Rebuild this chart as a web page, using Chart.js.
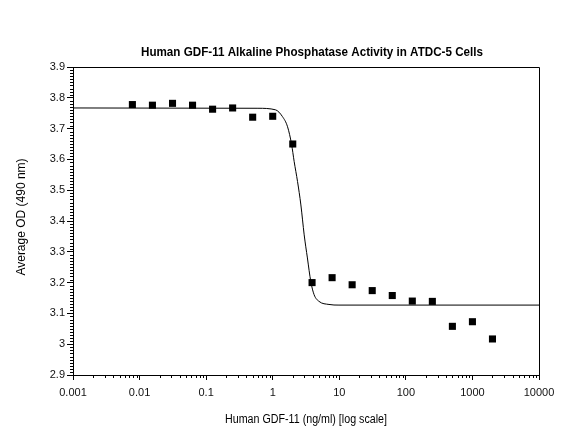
<!DOCTYPE html>
<html>
<head>
<meta charset="utf-8">
<script src="https://cdn.jsdelivr.net/npm/chart.js@4.4.1/dist/chart.umd.min.js"></script>
<style>
  html, body { margin: 0; padding: 0; background: #fff; }
  #wrap { width: 569px; height: 436px; position: relative; }
</style>
</head>
<body>
<div id="wrap"><canvas id="gdfChart"></canvas></div>
<script>
// doses (ng/ml) and mean OD at 490 nm
const doses = [0.0078, 0.0156, 0.03125, 0.0625, 0.125, 0.25, 0.5, 1, 2, 3.9, 7.8, 15.6, 31.25, 62.5, 125, 250, 500, 1000, 2000];
const odValues = [3.778, 3.776, 3.782, 3.776, 3.763, 3.767, 3.737, 3.740, 3.650, 3.200, 3.216, 3.193, 3.174, 3.158, 3.140, 3.139, 3.058, 3.073, 3.017];

// fitted curve
const curveX = [0.001, 0.6, 1.1, 1.4, 1.67, 1.92, 2.1, 2.36, 2.65, 2.97, 3.32, 3.73, 4.18, 4.96, 7.0, 9.9, 10000];
const curveY = [3.767, 3.766, 3.761, 3.739, 3.706, 3.649, 3.593, 3.528, 3.452, 3.355, 3.280, 3.204, 3.161, 3.139, 3.129, 3.127, 3.127];

const xTickValues = [0.001, 0.01, 0.1, 1, 10, 100, 1000, 10000];
const xTickLabels = ["0.001", "0.01", "0.1", "1", "10", "100", "1000", "10000"];
const yTickValues = [2.9, 3, 3.1, 3.2, 3.3, 3.4, 3.5, 3.6, 3.7, 3.8, 3.9];
const yTickLabels = ["2.9", "3", "3.1", "3.2", "3.3", "3.4", "3.5", "3.6", "3.7", "3.8", "3.9"];

const chartTitle = "Human GDF-11 Alkaline Phosphatase Activity in ATDC-5 Cells";
const xTitle = "Human GDF-11 (ng/ml) [log scale]";
const yTitle = "Average OD (490 nm)";

const sans = "'Liberation Sans', Arial, sans-serif";

// squeeze text into a given width (the original uses a narrow face)
function drawSqueezed(ctx, text, x, y, width) {
    const w = ctx.measureText(text).width;
    const k = Math.min(1, width / w);
    ctx.save();
    ctx.translate(x, y);
    ctx.scale(k, 1);
    ctx.fillText(text, 0, 0);
    ctx.restore();
}

// frame, minor ticks and titles
const framePlugin = {
    id: "frame",
    afterDraw(chart) {
        const ctx = chart.ctx;
        const a = chart.chartArea;
        const xs = chart.scales.x;
        const ys = chart.scales.y;
        ctx.save();
        ctx.strokeStyle = "#000";
        ctx.lineWidth = 1;
        ctx.beginPath();
        ctx.rect(Math.round(a.left) + 0.5, Math.round(a.top) + 0.5, Math.round(a.right - a.left), Math.round(a.bottom - a.top));
        ctx.stroke();

        // minor ticks on x
        ctx.beginPath();
        for (let e = -3; e < 4; e++) {
            for (let k = 2; k < 10; k++) {
                const px = Math.round(xs.getPixelForValue(k * Math.pow(10, e))) + 0.5;
                ctx.moveTo(px, Math.round(a.bottom));
                ctx.lineTo(px, Math.round(a.bottom) + 3);
            }
        }
        // minor ticks on y
        for (let i = 0; i <= 100; i++) {
            if (i % 10 === 0) continue;
            const py = Math.round(ys.getPixelForValue(2.9 + i * 0.01)) + 0.5;
            ctx.moveTo(Math.round(a.left) - 3, py);
            ctx.lineTo(Math.round(a.left), py);
        }
        ctx.stroke();

        ctx.fillStyle = "#000";
        ctx.textAlign = "center";
        ctx.textBaseline = "middle";
        const cx = (a.left + a.right) / 2;
        ctx.font = "bold 13px " + sans;
        drawSqueezed(ctx, chartTitle, cx + 6, 52, 342);
        ctx.font = "12px " + sans;
        drawSqueezed(ctx, xTitle, cx, 420, 162);
        ctx.translate(22, (a.top + a.bottom) / 2 - 4);
        ctx.rotate(-Math.PI / 2);
        ctx.font = "12px " + sans;
        ctx.fillText(yTitle, 0, 0);
        ctx.restore();
    }
};

const ctx = document.getElementById("gdfChart").getContext("2d");

new Chart(ctx, {
    type: "scatter",
    data: {
        datasets: [
            {
                label: "Fit",
                data: curveX.map((x, i) => ({ x: x, y: curveY[i] })),
                showLine: true,
                borderColor: "#000",
                borderWidth: 1,
                pointRadius: 0,
                cubicInterpolationMode: "monotone",
                order: 2,
            },
            {
                label: "OD",
                data: doses.map((x, i) => ({ x: x, y: odValues[i] })),
                backgroundColor: "#000",
                borderWidth: 0,
                pointStyle: "rect",
                pointRadius: 5,
                order: 1,
            },
        ],
    },
    options: {
        responsive: true,
        maintainAspectRatio: false,
        animation: false,
        layout: {
            padding: { left: 0, right: 30, top: 67, bottom: 0 },
        },
        plugins: {
            legend: { display: false },
            tooltip: { enabled: false },
            title: { display: false },
        },
        scales: {
            x: {
                type: "logarithmic",
                min: 0.001,
                max: 10000,
                afterBuildTicks: (scale) => {
                    scale.ticks = xTickValues.map((v) => ({ value: v }));
                },
                afterFit: (scale) => {
                    scale.height = 61;
                },
                ticks: {
                    autoSkip: false,
                    maxRotation: 0,
                    padding: 6,
                    color: "#111",
                    font: { family: sans, size: 11 },
                    callback: (value) => {
                        const i = xTickValues.indexOf(value);
                        return i >= 0 ? xTickLabels[i] : "";
                    },
                },
                grid: {
                    drawOnChartArea: false,
                    drawTicks: true,
                    tickLength: 5,
                    color: "#000",
                },
                border: { color: "#000" },
            },
            y: {
                type: "linear",
                min: 2.9,
                max: 3.9,
                afterBuildTicks: (scale) => {
                    scale.ticks = yTickValues.map((v) => ({ value: v }));
                },
                afterFit: (scale) => {
                    scale.width = 73;
                },
                ticks: {
                    autoSkip: false,
                    padding: 2,
                    color: "#111",
                    font: { family: sans, size: 11 },
                    callback: (value) => {
                        const i = yTickValues.findIndex((v) => Math.abs(v - value) < 1e-6);
                        return i >= 0 ? yTickLabels[i] : "";
                    },
                },
                grid: {
                    drawOnChartArea: false,
                    drawTicks: true,
                    tickLength: 6,
                    color: "#000",
                },
                border: { color: "#000" },
            },
        },
    },
    plugins: [framePlugin],
});
</script>
</body>
</html>
